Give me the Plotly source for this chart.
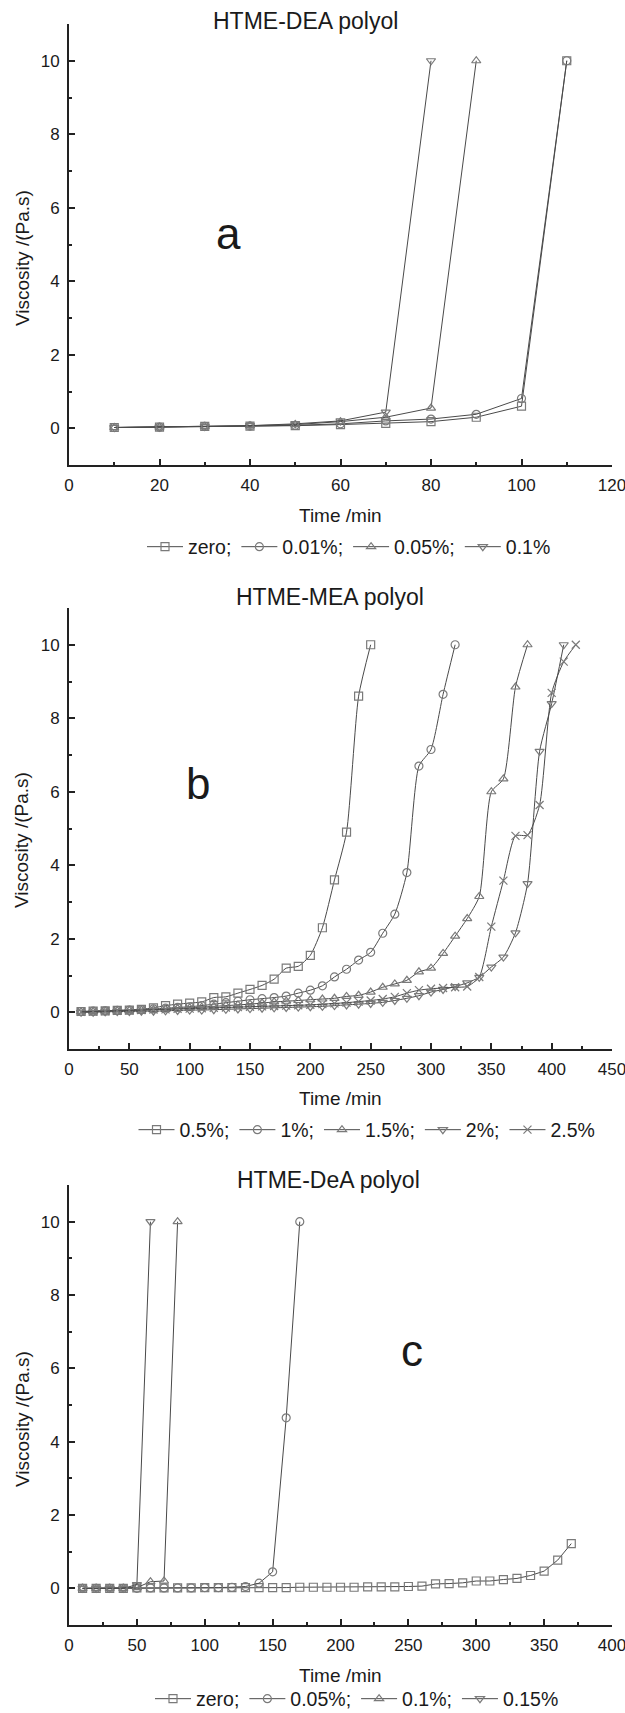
import plotly.graph_objects as go

W, H = 625, 1713

# ---------------- data ----------------
# Panel a: HTME-DEA polyol
a_zero_x = [10, 20, 30, 40, 50, 60, 70, 80, 90, 100, 110]
a_zero_y = [0.02, 0.03, 0.05, 0.06, 0.07, 0.10, 0.13, 0.18, 0.30, 0.60, 10]
a_001_x = [10, 20, 30, 40, 50, 60, 70, 80, 90, 100, 110]
a_001_y = [0.02, 0.03, 0.05, 0.06, 0.08, 0.12, 0.20, 0.25, 0.38, 0.81, 10]
a_005_x = [10, 20, 30, 40, 50, 60, 70, 80, 90]
a_005_y = [0.02, 0.03, 0.05, 0.07, 0.10, 0.18, 0.30, 0.55, 10]
a_01_x = [10, 20, 30, 40, 50, 60, 70, 80]
a_01_y = [0.02, 0.03, 0.05, 0.07, 0.12, 0.20, 0.44, 10]

# Panel b: HTME-MEA polyol
b_05_x = [10, 20, 30, 40, 50, 60, 70, 80, 90, 100, 110, 120, 130, 140, 150, 160,
          170, 180, 190, 200, 210, 220, 230, 240, 250]
b_05_y = [0.02, 0.03, 0.04, 0.05, 0.06, 0.08, 0.12, 0.18, 0.22, 0.25, 0.28, 0.40,
          0.42, 0.52, 0.62, 0.73, 0.90, 1.20, 1.25, 1.55, 2.30, 3.60, 4.90, 8.60, 10]
b_1_x = [10, 20, 30, 40, 50, 60, 70, 80, 90, 100, 110, 120, 130, 140, 150, 160,
         170, 180, 190, 200, 210, 220, 230, 240, 250, 260, 270, 280, 290, 300, 310, 320]
b_1_y = [0.02, 0.03, 0.04, 0.05, 0.06, 0.07, 0.09, 0.11, 0.13, 0.15, 0.18, 0.22,
         0.26, 0.30, 0.34, 0.37, 0.40, 0.44, 0.52, 0.60, 0.72, 0.96, 1.17, 1.42,
         1.63, 2.15, 2.67, 3.80, 6.70, 7.15, 8.65, 10]
b_15_x = [10, 20, 30, 40, 50, 60, 70, 80, 90, 100, 110, 120, 130, 140, 150, 160,
          170, 180, 190, 200, 210, 220, 230, 240, 250, 260, 270, 280, 290, 300,
          310, 320, 330, 340, 350, 360, 370, 380]
b_15_y = [0.01, 0.02, 0.03, 0.04, 0.05, 0.06, 0.07, 0.08, 0.10, 0.12, 0.14, 0.16,
          0.18, 0.20, 0.22, 0.25, 0.28, 0.30, 0.32, 0.34, 0.36, 0.38, 0.43, 0.46,
          0.55, 0.68, 0.77, 0.87, 1.10, 1.20, 1.60, 2.07, 2.55, 3.15, 6.00, 6.35,
          8.85, 10]
b_2_x = [10, 20, 30, 40, 50, 60, 70, 80, 90, 100, 110, 120, 130, 140, 150, 160,
         170, 180, 190, 200, 210, 220, 230, 240, 250, 260, 270, 280, 290, 300,
         310, 320, 330, 340, 350, 360, 370, 380, 390, 400, 410]
b_2_y = [0.00, 0.00, 0.01, 0.02, 0.02, 0.03, 0.03, 0.04, 0.05, 0.06, 0.06, 0.07,
         0.08, 0.09, 0.10, 0.11, 0.12, 0.13, 0.14, 0.15, 0.16, 0.18, 0.20, 0.22,
         0.24, 0.27, 0.32, 0.38, 0.45, 0.55, 0.62, 0.70, 0.80, 0.95, 1.23, 1.50,
         2.16, 3.50, 7.10, 8.40, 10]
b_25_x = [10, 20, 30, 40, 50, 60, 70, 80, 90, 100, 110, 120, 130, 140, 150, 160,
          170, 180, 190, 200, 210, 220, 230, 240, 250, 260, 270, 280, 290, 300,
          310, 320, 330, 340, 350, 360, 370, 380, 390, 400, 410, 420]
b_25_y = [0.01, 0.02, 0.03, 0.04, 0.05, 0.06, 0.07, 0.08, 0.09, 0.10, 0.11, 0.12,
          0.13, 0.14, 0.15, 0.16, 0.17, 0.18, 0.19, 0.20, 0.22, 0.24, 0.26, 0.29,
          0.32, 0.36, 0.42, 0.52, 0.60, 0.64, 0.66, 0.68, 0.70, 0.96, 2.33, 3.58,
          4.80, 4.82, 5.64, 8.69, 9.54, 10]

# Panel c: HTME-DeA polyol
c_zero_x = [10, 20, 30, 40, 50, 60, 70, 80, 90, 100, 110, 120, 130, 140, 150, 160,
            170, 180, 190, 200, 210, 220, 230, 240, 250, 260, 270, 280, 290, 300,
            310, 320, 330, 340, 350, 360, 370]
c_zero_y = [0.00, 0.00, 0.00, 0.00, 0.01, 0.01, 0.01, 0.01, 0.01, 0.02, 0.02, 0.02,
            0.02, 0.02, 0.02, 0.02, 0.03, 0.03, 0.03, 0.03, 0.03, 0.04, 0.04, 0.04,
            0.05, 0.06, 0.12, 0.13, 0.15, 0.20, 0.20, 0.24, 0.27, 0.35, 0.47, 0.77, 1.22]
c_005_x = [10, 20, 30, 40, 50, 60, 70, 80, 90, 100, 110, 120, 130, 140, 150, 160, 170]
c_005_y = [0.00, 0.00, 0.00, 0.00, 0.00, 0.01, 0.01, 0.01, 0.01, 0.02, 0.02, 0.03,
           0.05, 0.14, 0.45, 4.65, 10]
c_01_x = [10, 20, 30, 40, 50, 60, 70, 80]
c_01_y = [0.00, 0.00, 0.00, 0.00, 0.02, 0.18, 0.20, 10]
c_015_x = [10, 20, 30, 40, 50, 60]
c_015_y = [0.00, 0.00, 0.00, 0.00, 0.10, 10]

# ---------------- styling helpers ----------------
FONT = "Arial, Liberation Sans, sans-serif"
LINE_C = "#4a4a4a"
MARK_C = "#7a7a7a"
TXT_C = "#1a1a1a"

def px_x(x):
    return x / W

def px_y(y):
    return 1 - y / H

fig = go.Figure()

def add(x, y, name, symbol, axis, legend, shape="linear", size=8):
    fig.add_trace(go.Scatter(
        x=x, y=y, name=name, mode="lines+markers",
        xaxis="x" + axis, yaxis="y" + axis, legend=legend,
        line=dict(color=LINE_C, width=1, shape=shape, smoothing=0.6),
        marker=dict(symbol=symbol, size=size, color=MARK_C,
                    line=dict(color=MARK_C, width=1.2)),
    ))

add(a_zero_x, a_zero_y, "zero;", "square-open", "", "legend")
add(a_001_x, a_001_y, "0.01%;", "circle-open", "", "legend")
add(a_005_x, a_005_y, "0.05%;", "triangle-up-open", "", "legend")
add(a_01_x, a_01_y, "0.1%", "triangle-down-open", "", "legend")

add(b_05_x, b_05_y, "0.5%;", "square-open", "2", "legend2", "spline", 8)
add(b_1_x, b_1_y, "1%;", "circle-open", "2", "legend2", "spline", 8)
add(b_15_x, b_15_y, "1.5%;", "triangle-up-open", "2", "legend2", "spline", 8)
add(b_2_x, b_2_y, "2%;", "triangle-down-open", "2", "legend2", "spline", 8)
add(b_25_x, b_25_y, "2.5%", "x-thin-open", "2", "legend2", "spline", 8)

add(c_zero_x, c_zero_y, "zero;", "square-open", "3", "legend3", "linear", 8)
add(c_005_x, c_005_y, "0.05%;", "circle-open", "3", "legend3", "linear", 8)
add(c_01_x, c_01_y, "0.1%;", "triangle-up-open", "3", "legend3", "linear", 8)
add(c_015_x, c_015_y, "0.15%", "triangle-down-open", "3", "legend3", "linear", 8)

# ---------------- axes ----------------
X_L, X_R = 69, 612

def xaxis(xmax, dt, anchor):
    return dict(
        domain=[px_x(X_L), px_x(X_R)], range=[0, xmax], anchor=anchor,
        automargin=False,
        showline=True, linecolor="#222", linewidth=2, mirror=False,
        showgrid=False, zeroline=False,
        ticks="inside", ticklen=6, tickwidth=1.5, tickcolor="#222",
        dtick=dt, tick0=0,
        minor=dict(ticks="inside", ticklen=3, tickwidth=1.5, tickcolor="#222",
                   dtick=dt / 2, tick0=0, showgrid=False),
        tickfont=dict(family=FONT, size=17, color=TXT_C),
        ticklabelstandoff=4, ticklabeloverflow="allow",
    )

def yaxis(top, bot, anchor):
    return dict(
        domain=[px_y(bot), px_y(top)], range=[-1, 11], anchor=anchor,
        automargin=False,
        showline=True, linecolor="#222", linewidth=2, mirror=False,
        showgrid=False, zeroline=False,
        ticks="inside", ticklen=6, tickwidth=1.5, tickcolor="#222",
        tickvals=[0, 2, 4, 6, 8, 10],
        minor=dict(ticks="inside", ticklen=3, tickwidth=1.5, tickcolor="#222",
                   tickvals=[-1, 1, 3, 5, 7, 9], showgrid=False),
        tickfont=dict(family=FONT, size=17, color=TXT_C),
        ticklabelstandoff=4, ticklabeloverflow="allow",
    )

layout = dict(
    width=W, height=H,
    margin=dict(l=0, r=0, t=0, b=0, autoexpand=False),
    paper_bgcolor="white", plot_bgcolor="white",
    font=dict(family=FONT, color=TXT_C),
    xaxis=xaxis(120, 20, "y"), yaxis=yaxis(24, 465, "x"),
    xaxis2=xaxis(450, 50, "y2"), yaxis2=yaxis(608, 1049, "x2"),
    xaxis3=xaxis(400, 50, "y3"), yaxis3=yaxis(1185, 1625, "x3"),
)

def legend(xc, yc):
    return dict(
        orientation="h", x=px_x(xc), y=px_y(yc), xanchor="center", yanchor="middle",
        font=dict(family=FONT, size=19.5, color=TXT_C), bgcolor="rgba(0,0,0,0)",
        itemwidth=36, traceorder="normal",
    )

layout["legend"] = legend(349, 547)
layout["legend2"] = legend(367, 1130)
layout["legend3"] = legend(357, 1699)

fig.update_layout(**layout)

# ---------------- text annotations ----------------
texts = [
    ("HTME-DEA polyol", 305, 21, 23),
    ("HTME-MEA polyol", 330, 597, 23),
    ("HTME-DeA polyol", 328, 1180, 23),
    ("Time /min", 340, 515, 19),
    ("Time /min", 340, 1098, 19),
    ("Time /min", 340, 1675, 19),
    ("a", 228, 233, 44),
    ("b", 198, 783, 44),
    ("c", 412, 1350, 44),
]
for t, x, y, s in texts:
    fig.add_annotation(text=t, x=px_x(x), y=px_y(y), xref="paper", yref="paper",
                       xanchor="center", yanchor="middle", showarrow=False,
                       font=dict(family=FONT, size=s, color=TXT_C))

for yc in [258, 840, 1419]:
    fig.add_annotation(text="Viscosity /(Pa.s)", x=px_x(22), y=px_y(yc),
                       xref="paper", yref="paper", xanchor="center", yanchor="middle",
                       showarrow=False, textangle=-90,
                       font=dict(family=FONT, size=19, color=TXT_C))

fig.write_html("out.html")
